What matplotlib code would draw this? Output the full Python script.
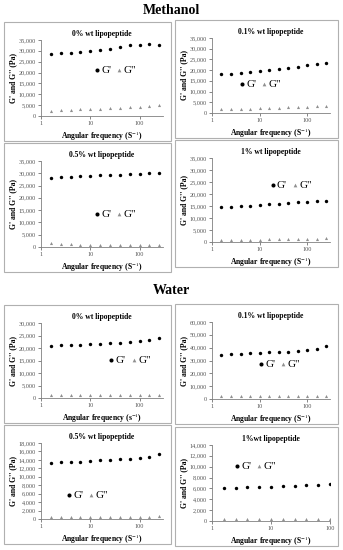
import matplotlib.pyplot as plt
import matplotlib.ticker as mticker
from matplotlib.patches import Rectangle
import numpy as np

plt.rcParams['font.family'] = ['Liberation Serif', 'DejaVu Serif']
plt.rcParams['mathtext.fontset'] = 'stix'

# angular frequency (s^-1), 5 points per decade
freq = [1.58, 2.51, 3.98, 6.31, 10, 15.8, 25.1, 39.8, 63.1, 100, 158, 251]
freq_short = freq[:10]

titles = ['0% wt lipopeptide', '0.1% wt lipopeptide', '0.5% wt lipopeptide', '1% wt lipopeptide',
          '0% wt lipopeptide', '0.1% wt lipopeptide', '0.5% wt lipopeptide', '1%wt lipopeptide']

meoh_0_g1 = [28500, 28800, 29000, 29300, 30000, 30500, 31000, 31700, 32500, 32700, 33200, 32800]
meoh_0_g2 = [2500, 2700, 2900, 3000, 3200, 3400, 3600, 3800, 4000, 4300, 4600, 5000]
meoh_01_g1 = [18200, 18300, 18600, 19000, 19400, 20000, 20500, 21000, 21700, 22300, 22900, 23300]
meoh_01_g2 = [1800, 1900, 2000, 2100, 2200, 2300, 2500, 2600, 2800, 3000, 3200, 3500]
meoh_05_g1 = [28000, 28300, 28500, 28700, 28900, 29100, 29300, 29500, 29700, 29900, 30100, 30300]
meoh_05_g2 = [1500, 1300, 1200, 1000, 900, 800, 800, 700, 700, 700, 700, 800]
meoh_1_g1 = [14600, 14700, 14800, 15100, 15400, 15700, 15900, 16200, 16500, 16800, 16900, 17000]
meoh_1_g2 = [1000, 1000, 1000, 1000, 1000, 1100, 1100, 1200, 1200, 1300, 1400, 1600]

water_0_g1 = [21000, 21100, 21200, 21300, 21600, 21700, 22000, 22100, 22500, 22800, 23200, 24000]
water_0_g2 = [1300, 1300, 1300, 1300, 1300, 1300, 1300, 1300, 1300, 1300, 1300, 1400]
water_01_g1 = [34500, 35000, 35300, 35600, 36000, 36300, 36800, 37000, 37600, 38200, 39200, 41000]
water_01_g2 = [2500, 2500, 2500, 2500, 2500, 2500, 2500, 2500, 2500, 2500, 2500, 2700]
water_05_g1 = [13200, 13400, 13500, 13600, 13700, 13900, 14000, 14100, 14300, 14500, 14800, 15300]
water_05_g2 = [500, 500, 500, 500, 500, 500, 500, 500, 500, 500, 500, 600]
water_1_g1 = [6000, 6100, 6200, 6300, 6300, 6400, 6500, 6600, 6700, 6800]
water_1_g2 = [300, 300, 300, 300, 300, 300, 300, 300, 300, 400]

series = [(freq, meoh_0_g1, meoh_0_g2), (freq, meoh_01_g1, meoh_01_g2),
          (freq, meoh_05_g1, meoh_05_g2), (freq, meoh_1_g1, meoh_1_g2),
          (freq, water_0_g1, water_0_g2), (freq, water_01_g1, water_01_g2),
          (freq, water_05_g1, water_05_g2), (freq_short, water_1_g1, water_1_g2)]
ymax = [35000, 35000, 35000, 35000, 30000, 60000, 18000, 14000]
ystep = [5000, 5000, 5000, 5000, 5000, 10000, 2000, 2000]
xmax = [300] * 7 + [100]
xunit = ['S', 'S', 'S', 'S', 's', 'S', 'S', 'S']
legend_pos = [(0.6, 0.6), (0.4, 0.38), (0.6, 0.38), (0.66, 0.68),
              (0.72, 0.5), (0.56, 0.45), (0.37, 0.32), (0.36, 0.72)]

# panel boxes in pixels (x0, x1, y0, y1 from top)
boxes = [(4, 171, 22, 141), (175, 338, 20, 138), (4, 171, 143, 272), (175, 338, 140, 267),
         (4, 171, 305, 423), (175, 338, 304, 424), (4, 171, 425, 544), (175, 338, 427, 546)]

W, H = 343, 550
fig = plt.figure(figsize=(W / 100, H / 100), dpi=100)

fig.text(171 / W, 1 - 10 / H, 'Methanol', ha='center', va='center', fontsize=10, fontweight='bold')
fig.text(171 / W, 1 - 290 / H, 'Water', ha='center', va='center', fontsize=10, fontweight='bold')

for i, (x0, x1, y0, y1) in enumerate(boxes):
    fig.patches.append(Rectangle((x0 / W, 1 - y1 / H), (x1 - x0) / W, (y1 - y0) / H,
                                 transform=fig.transFigure, fill=False, ec='#b0b0b0', lw=0.8))
    ax_l, ax_r, ax_t, ax_b = x0 + 37, x1 - 8, y0 + 18, y1 - 25
    ax = fig.add_axes([ax_l / W, 1 - ax_b / H, (ax_r - ax_l) / W, (ax_b - ax_t) / H])
    f, g1, g2 = series[i]
    ax.scatter(f, g1, s=6, c='black', marker='o', lw=0, label="G'")
    ax.scatter(f, g2, s=5, c='#909090', marker='^', lw=0, label='G"')
    ax.set_xscale('log')
    ax.set_xlim(1, xmax[i])
    ax.set_ylim(0, ymax[i])
    ax.set_yticks(np.arange(0, ymax[i] + 1, ystep[i]))
    ax.yaxis.set_major_formatter(mticker.FuncFormatter(lambda v, p: f'{int(v):,}'))
    ax.xaxis.set_major_formatter(mticker.FuncFormatter(lambda v, p: f'{int(v)}'))
    ax.xaxis.set_minor_locator(mticker.NullLocator())
    for s in ['top', 'right']:
        ax.spines[s].set_visible(False)
    for s in ['left', 'bottom']:
        ax.spines[s].set_color('#808080')
        ax.spines[s].set_linewidth(0.6)
    ax.tick_params(labelsize=4.5, colors='#555555', length=2, width=0.5, pad=1.5)
    ax.set_title(titles[i], fontsize=5.5, fontweight='bold', pad=3)
    ax.set_xlabel('Angular frequency (%s$^{-1}$)' % xunit[i], fontsize=5.5, fontweight='bold', labelpad=3)
    ax.set_ylabel("G' and G'' (Pa)", fontsize=5.5, fontweight='bold', labelpad=1.5)
    ax.legend(loc='center', bbox_to_anchor=legend_pos[i], ncol=2, frameon=False,
              handletextpad=0.0, columnspacing=0.3, handlelength=0.8, fontsize=8,
              markerscale=1.2, borderpad=0)

fig.savefig('out.png', dpi=100)
